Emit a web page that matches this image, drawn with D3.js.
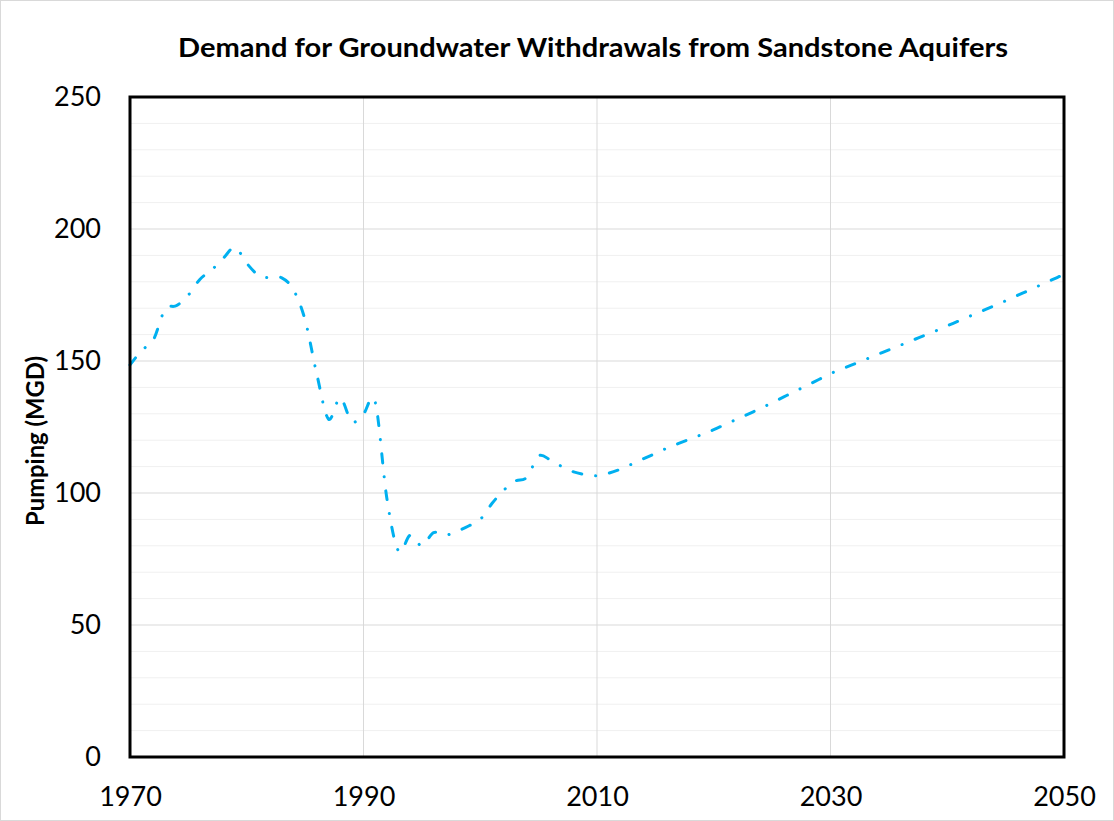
<!DOCTYPE html>
<html>
<head>
<meta charset="utf-8">
<script src="https://cdn.jsdelivr.net/npm/d3@7"></script>
<style>
  body { margin: 0; background: #fff; }
  text { font-family: Lato, "Open Sans", sans-serif; fill: #000; }
</style>
</head>
<body>
<div id="chart"></div>
<script>
// groundwater demand, sandstone aquifers (MGD)
const years = [
  1970, 1971, 1972, 1973, 1974, 1975, 1976, 1977, 1978, 1979,
  1980, 1981, 1982, 1983, 1984, 1985, 1986, 1987, 1988, 1989,
  1990, 1991, 1992, 1993, 1994, 1995, 1996, 1997, 1998, 1999,
  2000, 2001, 2002, 2003, 2004, 2005, 2006, 2007, 2008, 2009,
  2010, 2011, 2012, 2013, 2014, 2015, 2016, 2017, 2018, 2019,
  2020, 2021, 2022, 2023, 2024, 2025, 2026, 2027, 2028, 2029,
  2030, 2031, 2032, 2033, 2034, 2035, 2036, 2037, 2038, 2039,
  2040, 2041, 2042, 2043, 2044, 2045, 2046, 2047, 2048, 2049,
  2050
];
const pumping = [
  148.5, 154, 158, 169.5, 171, 175, 181, 184.5, 189, 193,
  187, 182.5, 181.5, 181.5, 177, 165.5, 145, 128, 136, 127,
  130, 134.5, 98, 78, 84, 80, 85, 84, 85.5, 87.5,
  90, 96, 101, 104.5, 106, 114, 112.5, 110, 108, 107,
  106.5, 107.5, 109, 111, 113, 115, 117, 118.8, 120.5, 122.2,
  124, 126, 128, 130, 132, 134.2, 136.4, 138.6, 140.8, 143,
  145.2, 147, 148.8, 150.6, 152.4, 154.2, 156, 157.8, 159.6, 161.4,
  163.3, 165.2, 167.1, 169, 170.9, 172.8, 174.8, 176.8, 178.8, 180.8,
  182.8
];
const xTicks = [1970, 1990, 2010, 2030, 2050];
const yTicks = [0, 50, 100, 150, 200, 250];
const yMinor = [10, 20, 30, 40, 60, 70, 80, 90, 110, 120, 130, 140, 160, 170, 180, 190, 210, 220, 230, 240];

const width = 1114, height = 821;
const margin = { top: 97, right: 50, bottom: 64, left: 130 };

const svg = d3.select("#chart").append("svg")
  .attr("width", width)
  .attr("height", height);

svg.append("rect")
  .attr("x", 0.5).attr("y", 0.5)
  .attr("width", width - 1).attr("height", height - 1)
  .attr("fill", "#fff")
  .attr("stroke", "#d9d9d9");

const x = d3.scaleLinear().domain([1970, 2050]).range([margin.left, width - margin.right]);
const y = d3.scaleLinear().domain([0, 250]).range([height - margin.bottom, margin.top]);

const data = years.map((yr, i) => ({ year: yr, value: pumping[i] }));

// gridlines
const grid = svg.append("g");
grid.selectAll(".minor")
  .data(yMinor)
  .join("line")
  .attr("x1", x.range()[0]).attr("x2", x.range()[1])
  .attr("y1", d => y(d)).attr("y2", d => y(d))
  .attr("stroke", "#f0f0f0")
  .attr("stroke-width", 1);
grid.selectAll(".major")
  .data(yTicks)
  .join("line")
  .attr("x1", x.range()[0]).attr("x2", x.range()[1])
  .attr("y1", d => y(d)).attr("y2", d => y(d))
  .attr("stroke", "#d9d9d9")
  .attr("stroke-width", 1);
grid.selectAll(".vert")
  .data(xTicks.slice(1, -1))
  .join("line")
  .attr("x1", d => x(d)).attr("x2", d => x(d))
  .attr("y1", y.range()[0]).attr("y2", y.range()[1])
  .attr("stroke", "#d9d9d9")
  .attr("stroke-width", 1);

// axes (labels only, frame drawn below)
const xAxis = svg.append("g")
  .attr("transform", `translate(0,${y(0)})`)
  .call(d3.axisBottom(x).tickValues(xTicks).tickFormat(d3.format("d")).tickSize(0).tickPadding(30));
const yAxis = svg.append("g")
  .attr("transform", `translate(${x(1970)},0)`)
  .call(d3.axisLeft(y).tickValues(yTicks).tickSize(0).tickPadding(29));
[xAxis, yAxis].forEach(g => {
  g.select(".domain").remove();
  g.selectAll("text").style("font-size", "27px").style("font-family", "Lato, sans-serif");
});

// the series
const line = d3.line()
  .x(d => x(d.year))
  .y(d => y(d.value))
  .curve(d3.curveCardinal.tension(0));

svg.append("path")
  .datum(data)
  .attr("d", line)
  .attr("fill", "none")
  .attr("stroke", "#00b0f0")
  .attr("stroke-width", 3)
  .attr("stroke-linecap", "round")
  .attr("stroke-dasharray", "9,14,0.1,14");

// plot frame
svg.append("rect")
  .attr("x", x(1970)).attr("y", y(250))
  .attr("width", x(2050) - x(1970))
  .attr("height", y(0) - y(250))
  .attr("fill", "none")
  .attr("stroke", "#000")
  .attr("stroke-width", 3);

svg.append("text")
  .attr("x", 593).attr("y", 57)
  .attr("text-anchor", "middle")
  .attr("textLength", 830)
  .attr("lengthAdjust", "spacingAndGlyphs")
  .style("font-size", "27px")
  .style("font-weight", "bold")
  .text("Demand for Groundwater Withdrawals from Sandstone Aquifers");

svg.append("text")
  .attr("transform", `translate(44,441) rotate(-90)`)
  .attr("text-anchor", "middle")
  .attr("textLength", 170)
  .attr("lengthAdjust", "spacingAndGlyphs")
  .style("font-size", "25px")
  .style("font-weight", "bold")
  .text("Pumping (MGD)");
</script>
</body>
</html>
